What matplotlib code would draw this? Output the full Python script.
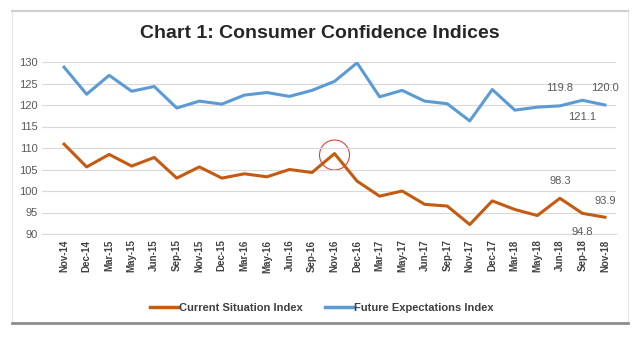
import matplotlib
matplotlib.use("Agg")
import matplotlib.pyplot as plt
from matplotlib.patches import Ellipse, Rectangle
from matplotlib.lines import Line2D

months = ["Nov-14", "Dec-14", "Mar-15", "May-15", "Jun-15", "Sep-15", "Nov-15", "Dec-15",
          "Mar-16", "May-16", "Jun-16", "Sep-16", "Nov-16", "Dec-16", "Mar-17", "May-17",
          "Jun-17", "Sep-17", "Nov-17", "Dec-17", "Mar-18", "May-18", "Jun-18", "Sep-18", "Nov-18"]
current = [110.9, 105.6, 108.5, 105.8, 107.8, 103.0, 105.6, 103.0, 104.0, 103.3, 105.0, 104.3,
           108.7, 102.3, 98.8, 100.0, 96.9, 96.5, 92.2, 97.7, 95.7, 94.3, 98.3, 94.8, 93.9]
future = [128.8, 122.5, 126.9, 123.2, 124.3, 119.3, 120.9, 120.2, 122.3, 122.9, 122.0, 123.4,
          125.5, 129.8, 121.9, 123.4, 120.9, 120.3, 116.3, 123.6, 118.8, 119.5, 119.8, 121.1, 120.0]
yticks = [90, 95, 100, 105, 110, 115, 120, 125, 130]

W, H = 640, 360
fig = plt.figure(figsize=(6.4, 3.6), dpi=100)
fig.patch.set_facecolor("white")

# frame
frame = fig.add_axes([0, 0, 1, 1])
frame.set_xlim(0, W); frame.set_ylim(H, 0); frame.axis("off")
frame.add_patch(Rectangle((12, 11), 616, 312, fill=False, edgecolor="#e6e6e6", lw=0.8))
frame.plot([12, 628], [11, 11], color="#cfcfcf", lw=1.5)
frame.plot([12, 628], [323, 323], color="#8c8c8c", lw=2)

left, right, top, bottom = 42, 616, 62, 234
ax = fig.add_axes([left / W, 1 - bottom / H, (right - left) / W, (bottom - top) / H])
x = list(range(len(months)))
ax.plot(x, future, color="#5B9BD5", lw=2.2, solid_joinstyle="round", label="Future Expectations Index")
ax.plot(x, current, color="#C55A11", lw=2.2, solid_joinstyle="round", label="Current Situation Index")
ax.set_xlim(-0.98, 24.49)
ax.set_ylim(90, 130)
ax.set_yticks(yticks)
ax.set_yticklabels([str(v) for v in yticks], fontsize=8, color="#595959", family="Liberation Sans")
ax.set_xticks(x)
ax.set_xticklabels(months, rotation=90, fontsize=7, fontweight="bold", color="#404040",
                   family="Liberation Sans")
ax.tick_params(length=0, pad=4)
ax.tick_params(axis="y", pad=3)
ax.grid(axis="y", color="#d9d9d9", lw=0.8)
ax.set_axisbelow(True)
for s in ["top", "right", "left"]:
    ax.spines[s].set_visible(False)
ax.spines["bottom"].set_color("#d9d9d9")
ax.patch.set_alpha(0)

# annotations
lab = dict(fontsize=8, color="#595959", family="Liberation Sans", ha="center", va="center")
ax.annotate(f"{future[22]:.1f}", (22, future[22]), xytext=(0, 12.5), textcoords="offset points", **lab)
ax.annotate(f"{future[24]:.1f}", (24, future[24]), xytext=(0, 12.5), textcoords="offset points", **lab)
ax.annotate(f"{future[23]:.1f}", (23, future[23]), xytext=(0, -12), textcoords="offset points", **lab)
ax.annotate(f"{current[22]:.1f}", (22, current[22]), xytext=(0, 12.5), textcoords="offset points", **lab)
ax.annotate(f"{current[24]:.1f}", (24, current[24]), xytext=(0, 11.5), textcoords="offset points", **lab)
ax.annotate(f"{current[23]:.1f}", (23, current[23]), xytext=(0, -13.5), textcoords="offset points", **lab)

# red circle around Nov-16 peak
frame.add_patch(Ellipse((334.5, 155), 30, 30, fill=False, edgecolor="#e04040", lw=0.8))

fig.text(320 / W, 1 - 33 / H, "Chart 1: Consumer Confidence Indices", ha="center", va="center",
         fontsize=14, fontweight="bold", color="#262626", family="Liberation Sans")

handles = [Line2D([], [], color="#C55A11", lw=2.5), Line2D([], [], color="#5B9BD5", lw=2.5)]
fig.legend(handles, ["Current Situation Index", "Future Expectations Index"],
           loc="center", bbox_to_anchor=(322 / W, 1 - 308 / H), ncol=2, frameon=False,
           prop=dict(size=8, weight="bold", family="Liberation Sans"),
           handlelength=2.6, handletextpad=0.0, columnspacing=2.0, labelcolor="#404040")

fig.savefig("out.png", dpi=100, facecolor="white")
